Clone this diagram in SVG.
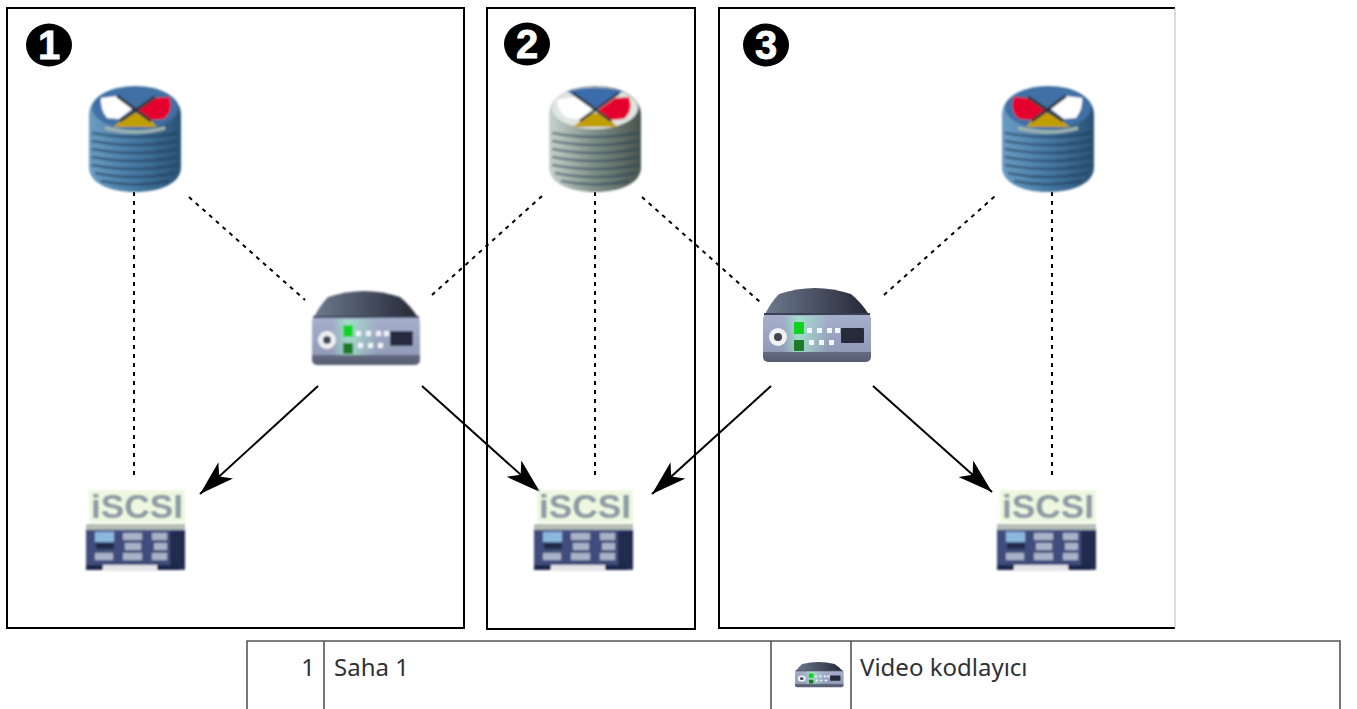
<svg xmlns="http://www.w3.org/2000/svg" width="1357" height="709" viewBox="0 0 1357 709">
<style>
.frame{fill:none;stroke:#000;stroke-width:2}
.dot{fill:none;stroke:#000;stroke-width:2;stroke-dasharray:4 5}
.arr{fill:none;stroke:#000;stroke-width:2;marker-end:url(#ah)}
.badge{fill:#000}
.num{font-family:"Liberation Sans",Arial,sans-serif;font-weight:700;font-size:40px;fill:#fff;stroke:#fff;stroke-width:.8;text-anchor:middle}
.grid{fill:none;stroke:#555;stroke-width:1.6}
.t{font-family:"Noto Sans","Open Sans",sans-serif;font-size:24px;fill:#2e3135}
.iscsi{font-family:"Liberation Sans",Arial,sans-serif;font-weight:700;font-size:34px;fill:#8b99a3}
</style>
<defs>
<marker id="ah" markerUnits="userSpaceOnUse" markerWidth="38" markerHeight="26" refX="35" refY="11" orient="auto">
<path d="M35 11 L0 0 L9 11 L0 22 Z" fill="#000"/>
</marker>
<filter id="soft" x="-10%" y="-10%" width="120%" height="120%"><feGaussianBlur stdDeviation="1"/></filter>
<filter id="soft2" x="-10%" y="-10%" width="120%" height="120%"><feGaussianBlur stdDeviation="0.9"/></filter>
<linearGradient id="blueBody" x1="0" y1="0" x2="1" y2="0">
<stop offset="0" stop-color="#6a9cc2"/><stop offset=".45" stop-color="#4a7da8"/><stop offset="1" stop-color="#2a5273"/>
</linearGradient>
<linearGradient id="grayBody" x1="0" y1="0" x2="1" y2="0">
<stop offset="0" stop-color="#c8d2cc"/><stop offset=".45" stop-color="#86948e"/><stop offset="1" stop-color="#48544f"/>
</linearGradient>
<linearGradient id="devTop" x1="0" y1="0" x2="1" y2="0">
<stop offset="0" stop-color="#6e7a90"/><stop offset="1" stop-color="#232735"/>
</linearGradient>
<linearGradient id="devFace" x1="0" y1="0" x2="0" y2="1">
<stop offset="0" stop-color="#a6b0cc"/><stop offset=".78" stop-color="#929bb8"/><stop offset=".8" stop-color="#636a80"/><stop offset="1" stop-color="#565c70"/>
</linearGradient>
<linearGradient id="glow" x1="0" y1="0" x2="1" y2="0">
<stop offset="0" stop-color="#a4e6cc" stop-opacity="0"/><stop offset=".35" stop-color="#a4e6cc" stop-opacity=".85"/><stop offset="1" stop-color="#a4e6cc" stop-opacity="0"/>
</linearGradient>
<path id="barrel" d="M46 1 C72 1 92 12 92 30 V82 C92 98 72 107 46 107 C20 107 0 98 0 82 V30 C0 12 20 1 46 1Z"/>
<g id="stripes" fill="none" stroke="#1c3a56" stroke-opacity=".6" stroke-width="2.400">
<path d="M3 48 Q46 56 89 48M3 56 Q46 64 89 56M3 64 Q46 72 89 64M3 72 Q46 80 89 72M3 80 Q46 88 89 80M6 88 Q46 96 86 88M12 96 Q46 103 80 96"/>
</g>
<g id="wedgesL">
<ellipse cx="46" cy="23" rx="43" ry="21" fill="#3f6fa5"/>
<path d="M12 13 L28 11 L43 24 L30 34 L18 33 Q11 24 12 13Z" fill="#fff"/>
<path d="M80 12 Q85 25 75 34 L62 35 L49 25 L66 13Z" fill="#e5062d"/>
<path d="M24 42 L68 42 L61 34 Q47 22 34 34Z" fill="#c29f00"/>
<path d="M28 11 L62 36M66 12 L31 36" stroke="#33353c" stroke-width="3" fill="none"/>
<path d="M16 43 Q46 51 76 43" stroke="#9fb3ad" stroke-width="3.500" fill="none"/>
</g>
<g id="dbBlue" filter="url(#soft)">
<use href="#barrel" fill="url(#blueBody)"/>
<use href="#stripes"/>
<use href="#wedgesL"/>
</g>
<g id="dbBlueFlip" filter="url(#soft)">
<use href="#barrel" fill="url(#blueBody)"/>
<use href="#stripes"/>
<use href="#wedgesL" transform="translate(92 0) scale(-1 1)"/>
</g>
<g id="dbGray" filter="url(#soft)">
<use href="#barrel" fill="url(#grayBody)"/>
<use href="#stripes" opacity=".85"/>
<ellipse cx="46" cy="23" rx="43" ry="21" fill="#dfe5e0"/>
<path d="M18 6 Q46 -1 74 6 L46 26Z" fill="#3a6cab"/>
<path d="M8 15 L26 12 L43 24 L30 34 L18 33 Q8 26 8 15Z" fill="#fff"/>
<path d="M80 12 Q85 25 75 34 L62 35 L49 25 L66 13Z" fill="#e5062d"/>
<path d="M24 42 L68 42 L61 34 Q47 22 34 34Z" fill="#c29f00"/>
<path d="M24 8 L62 36M70 8 L31 36" stroke="#33353c" stroke-width="2.500" fill="none"/>
</g>
<g id="device">
<path d="M16 6 Q52 -6 88 6 Q98 14 107 28 H1 Q8 14 16 6Z" fill="url(#devTop)"/>
<rect x="0" y="26" width="108" height="48" rx="5" fill="url(#devFace)"/>
<path d="M1 26 H107" stroke="#3a4254" stroke-width="2"/>
<rect x="20" y="28" width="45" height="36" fill="url(#glow)"/>
<circle cx="15" cy="49" r="9" fill="#eef0f2"/><circle cx="15" cy="49" r="4" fill="#40454f"/>
<rect x="31" y="34" width="10" height="12" rx="1" fill="#0fd320"/>
<rect x="31" y="52" width="10" height="11" rx="1" fill="#1f7a28"/>
<g fill="#f2f5fa"><rect x="44" y="40" width="5" height="5"/><rect x="54" y="40" width="5" height="5"/><rect x="64" y="40" width="5" height="5"/><rect x="72" y="40" width="5" height="5"/><rect x="46" y="52" width="5" height="5"/><rect x="56" y="52" width="5" height="5"/><rect x="66" y="52" width="5" height="5"/></g>
<rect x="78" y="40" width="23" height="15" rx="1" fill="#262b3c"/>
</g>
<g id="iscsi">
<rect x="3" y="1" width="96" height="33" fill="#eef8e0" filter="url(#soft)"/>
<rect x="0" y="35" width="99" height="7" fill="#a9b2a8" opacity=".85" filter="url(#soft)"/>
<text class="iscsi" x="5" y="29" textLength="92" lengthAdjust="spacingAndGlyphs" filter="url(#soft2)">iSCSI</text>
<g filter="url(#soft2)">
<rect x="0" y="41" width="99" height="40" fill="#414d7c"/>
<rect x="9" y="43" width="19" height="10" fill="#8ab8de"/>
<g fill="#aab2c8"><rect x="37" y="44" width="19" height="7"/><rect x="39" y="54" width="16" height="7"/><rect x="37" y="64" width="19" height="7"/><rect x="66" y="44" width="15" height="7"/><rect x="68" y="54" width="13" height="7"/><rect x="66" y="64" width="15" height="7"/><rect x="9" y="64" width="18" height="7"/></g>
<rect x="10" y="54" width="18" height="6" fill="#222a48"/>
<rect x="84" y="42" width="15" height="38" fill="#222b4d"/>
<rect x="17" y="76" width="54" height="6" fill="#e4e4e8"/>
<rect x="0" y="76" width="17" height="5" fill="#1e2648"/>
<rect x="71" y="76" width="22" height="5" fill="#1e2648"/>
</g>
</g>
</defs>

<g id="frames">
<rect id="frame-1" class="frame" x="7" y="8" width="457" height="620"/>
<rect id="frame-2" class="frame" x="487" y="8" width="208" height="621"/>
<path id="frame-3" class="frame" d="M1175 8 H719 V628 H1175"/>
<path d="M1175 8 V628" stroke="#b8b8b8" stroke-width="1" fill="none"/>
</g>

<g id="connectors">
<path class="dot" d="M134 192 V480"/>
<path class="dot" d="M189 197 L305 300"/>
<path class="dot" d="M432 295 L542 196"/>
<path class="dot" d="M595 192 V480"/>
<path class="dot" d="M642 197 L760 302"/>
<path class="dot" d="M884 295 L995 196"/>
<path class="dot" d="M1052 192 V480"/>
<path class="arr" d="M318 386 L200 494"/>
<path class="arr" d="M422 386 L540 492"/>
<path class="arr" d="M771 386 L652 494"/>
<path class="arr" d="M873 386 L992 492"/>
</g>

<g id="badge-1"><ellipse class="badge" cx="49" cy="45" rx="23" ry="21.500"/><text class="num" x="49" y="59">1</text></g>
<g id="badge-2"><ellipse class="badge" cx="527" cy="44" rx="23" ry="21.500"/><text class="num" x="527" y="58">2</text></g>
<g id="badge-3"><ellipse class="badge" cx="766" cy="45" rx="23" ry="21.500"/><text class="num" x="766" y="59">3</text></g>

<g id="db-1"><use href="#dbBlue" x="89" y="85"/></g>
<g id="db-2"><use href="#dbGray" x="549" y="85"/></g>
<g id="db-3"><use href="#dbBlueFlip" x="1002" y="85"/></g>

<g id="encoder-1"><use href="#device" x="312" y="291" filter="url(#soft)"/></g>
<g id="encoder-2"><use href="#device" x="763" y="288"/></g>

<g id="iscsi-1"><use href="#iscsi" x="86" y="489"/></g>
<g id="iscsi-2"><use href="#iscsi" x="534" y="489"/></g>
<g id="iscsi-3"><use href="#iscsi" x="997" y="489"/></g>

<g id="legend">
<path class="grid" d="M247 709 V641 H1340 V709M324 641 V709M771 641 V709M851 641 V709"/>
<text class="t" x="315" y="676" text-anchor="end">1</text>
<text class="t" x="334" y="676">Saha 1</text>
<use href="#device" transform="translate(795 662) scale(.45 .34)"/>
<text class="t" x="860" y="676">Video kodlayıcı</text>
</g>
</svg>
